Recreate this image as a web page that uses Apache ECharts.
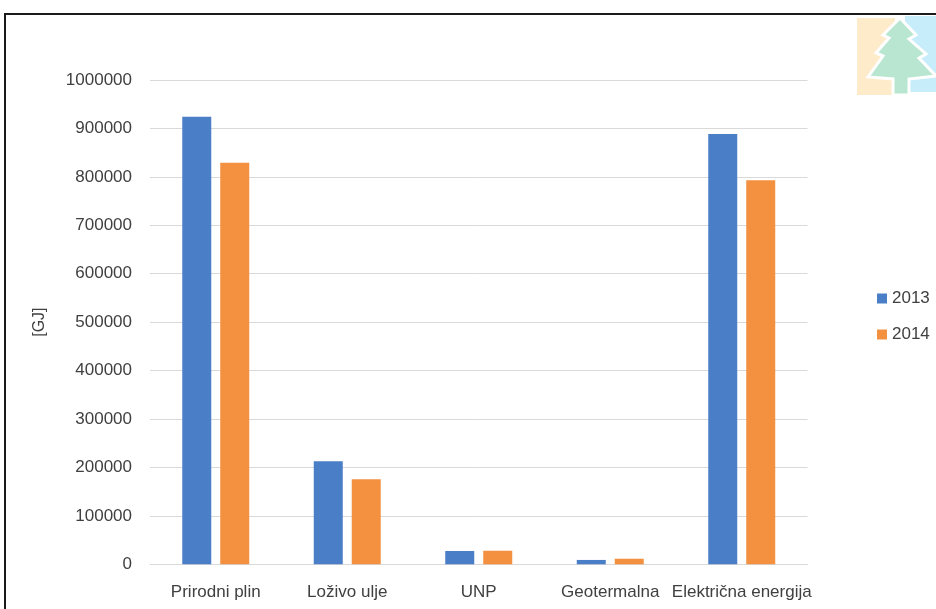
<!DOCTYPE html>
<html>
<head>
<meta charset="utf-8">
<script src="https://cdn.jsdelivr.net/npm/echarts@6/dist/echarts.min.js"></script>
<style>html,body{margin:0;padding:0;background:#fff;}#c{width:936px;height:609px;}</style>
</head>
<body>
<div id="c"></div>
<script>
const categories = ['Prirodni plin', 'Loživo ulje', 'UNP', 'Geotermalna', 'Električna energija'];
const values2013 = [924000, 213000, 27500, 9000, 888500];
const values2014 = [829000, 175500, 28000, 11500, 793000];
const seriesNames = ['2013', '2014'];
const yTicks = { min: 0, max: 1000000, interval: 100000 };

const font = 'Liberation Sans, Arial, sans-serif';
const chart = echarts.init(document.getElementById('c'), null, { renderer: 'canvas' });
chart.setOption({
  animation: false,
  backgroundColor: '#fff',
  textStyle: { fontFamily: font },
  grid: { left: 150, right: 128.5, top: 80, bottom: 44.7 },
  legend: {
    orient: 'vertical',
    left: 877,
    top: 290,
    padding: 0,
    itemWidth: 10,
    itemHeight: 10,
    itemGap: 19,
    icon: 'rect',
    textStyle: { fontSize: 17, color: '#404040', fontFamily: font },
    data: seriesNames
  },
  xAxis: {
    type: 'category',
    data: categories,
    axisLine: { show: true, lineStyle: { color: '#d9d9d9', width: 1 } },
    axisTick: { show: false },
    axisLabel: { color: '#404040', fontSize: 17, margin: 20, fontFamily: font, interval: 0 }
  },
  yAxis: {
    type: 'value',
    min: yTicks.min, max: yTicks.max, interval: yTicks.interval,
    name: '[GJ]',
    nameLocation: 'middle',
    nameGap: 102,
    nameRotate: 90,
    nameTextStyle: { color: '#404040', fontSize: 16, fontFamily: font },
    axisLine: { show: false },
    axisTick: { show: false },
    splitLine: { lineStyle: { color: '#d9d9d9', width: 1 } },
    axisLabel: { color: '#404040', fontSize: 17, margin: 18, fontFamily: font,
      formatter: function (v) { return String(v); } }
  },
  series: [
    { name: seriesNames[0], type: 'bar', data: values2013, barWidth: 29, barGap: '31%',
      itemStyle: { color: '#4a7ec7' } },
    { name: seriesNames[1], type: 'bar', data: values2014, barWidth: 29,
      itemStyle: { color: '#f39140' } }
  ],
  graphic: [
    { type: 'rect', shape: { x: 857, y: 18, width: 38, height: 77 },
      style: { fill: '#fdebc9' }, silent: true },
    { type: 'rect', shape: { x: 905, y: 16, width: 31, height: 76 },
      style: { fill: '#c8edfa' }, silent: true },
    { type: 'polygon',
      shape: { points: [[900,18],[916,35],[909,39],[926,54],[919,58],[936,76],[909,79],[909,95],[893,95],[893,79],[868,77],[883,56],[876,53],[889,38],[883,35]] },
      style: { fill: '#b9e6d0', stroke: '#ffffff', lineWidth: 3 }, silent: true },
    { type: 'rect', shape: { x: 5, y: 14, width: 1000, height: 1000 },
      style: { fill: 'none', stroke: '#1a1a1a', lineWidth: 2 }, silent: true }
  ]
});
</script>
</body>
</html>
